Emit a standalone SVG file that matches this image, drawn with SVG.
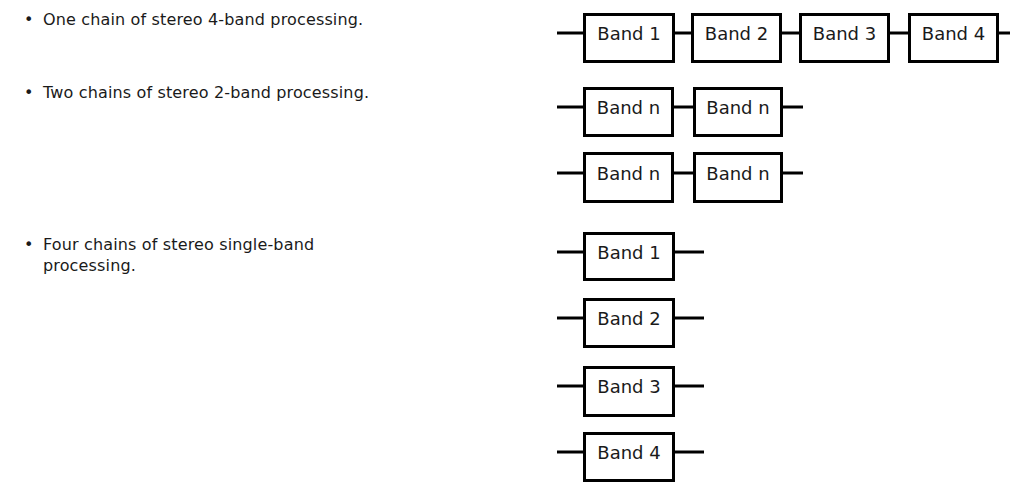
<svg xmlns="http://www.w3.org/2000/svg" width="1011" height="482" viewBox="0 0 1011 482">
<style>
.t{font-family:"DejaVu Sans","Verdana",sans-serif;font-size:16px;letter-spacing:0.15px;fill:#1a1a1a}
.b rect{fill:#fff;stroke:#000;stroke-width:3}
.b text{font-family:"DejaVu Sans","Verdana",sans-serif;font-size:18px;fill:#1a1a1a;text-anchor:middle}
.c line{stroke:#000;stroke-width:3}
</style>
<rect width="1011" height="482" fill="#fff"/>
<g id="bullets">
<text class="t" x="24" y="25">•</text><text class="t" x="43" y="25">One chain of stereo 4-band processing.</text>
<text class="t" x="24" y="98">•</text><text class="t" x="43" y="98">Two chains of stereo 2-band processing.</text>
<text class="t" x="24" y="250">•</text><text class="t" x="43" y="250">Four chains of stereo single-band</text>
<text class="t" x="43" y="271">processing.</text>
</g>
<g class="c" id="connectors">
<line x1="557" y1="33" x2="584" y2="33"/><line x1="674" y1="33" x2="692" y2="33"/><line x1="781" y1="33" x2="800" y2="33"/><line x1="889" y1="33" x2="909" y2="33"/><line x1="998" y1="33" x2="1010" y2="33"/>
<line x1="557" y1="107" x2="584" y2="107"/><line x1="673" y1="107" x2="694" y2="107"/><line x1="782" y1="107" x2="803" y2="107"/>
<line x1="557" y1="173" x2="584" y2="173"/><line x1="673" y1="173" x2="694" y2="173"/><line x1="782" y1="173" x2="803" y2="173"/>
<line x1="557" y1="252" x2="584" y2="252"/><line x1="674" y1="252" x2="704" y2="252"/>
<line x1="557" y1="318" x2="584" y2="318"/><line x1="674" y1="318" x2="704" y2="318"/>
<line x1="557" y1="386" x2="584" y2="386"/><line x1="674" y1="386" x2="704" y2="386"/>
<line x1="557" y1="452" x2="584" y2="452"/><line x1="674" y1="452" x2="704" y2="452"/>
</g>
<g class="b" id="r1b1"><rect x="584.5" y="14.5" width="89" height="47"/><text x="629" y="40">Band 1</text></g>
<g class="b" id="r1b2"><rect x="692.5" y="14.5" width="88" height="47"/><text x="736.5" y="40">Band 2</text></g>
<g class="b" id="r1b3"><rect x="800.5" y="14.5" width="88" height="47"/><text x="844.5" y="40">Band 3</text></g>
<g class="b" id="r1b4"><rect x="909.5" y="14.5" width="88" height="47"/><text x="953.5" y="40">Band 4</text></g>
<g class="b" id="r2b1"><rect x="584.5" y="88.5" width="88" height="47"/><text x="628.5" y="114">Band n</text></g>
<g class="b" id="r2b2"><rect x="694.5" y="88.5" width="87" height="47"/><text x="738" y="114">Band n</text></g>
<g class="b" id="r3b1"><rect x="584.5" y="153.5" width="88" height="48"/><text x="628.5" y="180">Band n</text></g>
<g class="b" id="r3b2"><rect x="694.5" y="153.5" width="87" height="48"/><text x="738" y="180">Band n</text></g>
<g class="b" id="s1"><rect x="584.5" y="233.5" width="89" height="46"/><text x="629" y="259">Band 1</text></g>
<g class="b" id="s2"><rect x="584.5" y="299.5" width="89" height="47"/><text x="629" y="325">Band 2</text></g>
<g class="b" id="s3"><rect x="584.5" y="367.5" width="89" height="48"/><text x="629" y="393">Band 3</text></g>
<g class="b" id="s4"><rect x="584.5" y="433.5" width="89" height="47"/><text x="629" y="459">Band 4</text></g>
</svg>
